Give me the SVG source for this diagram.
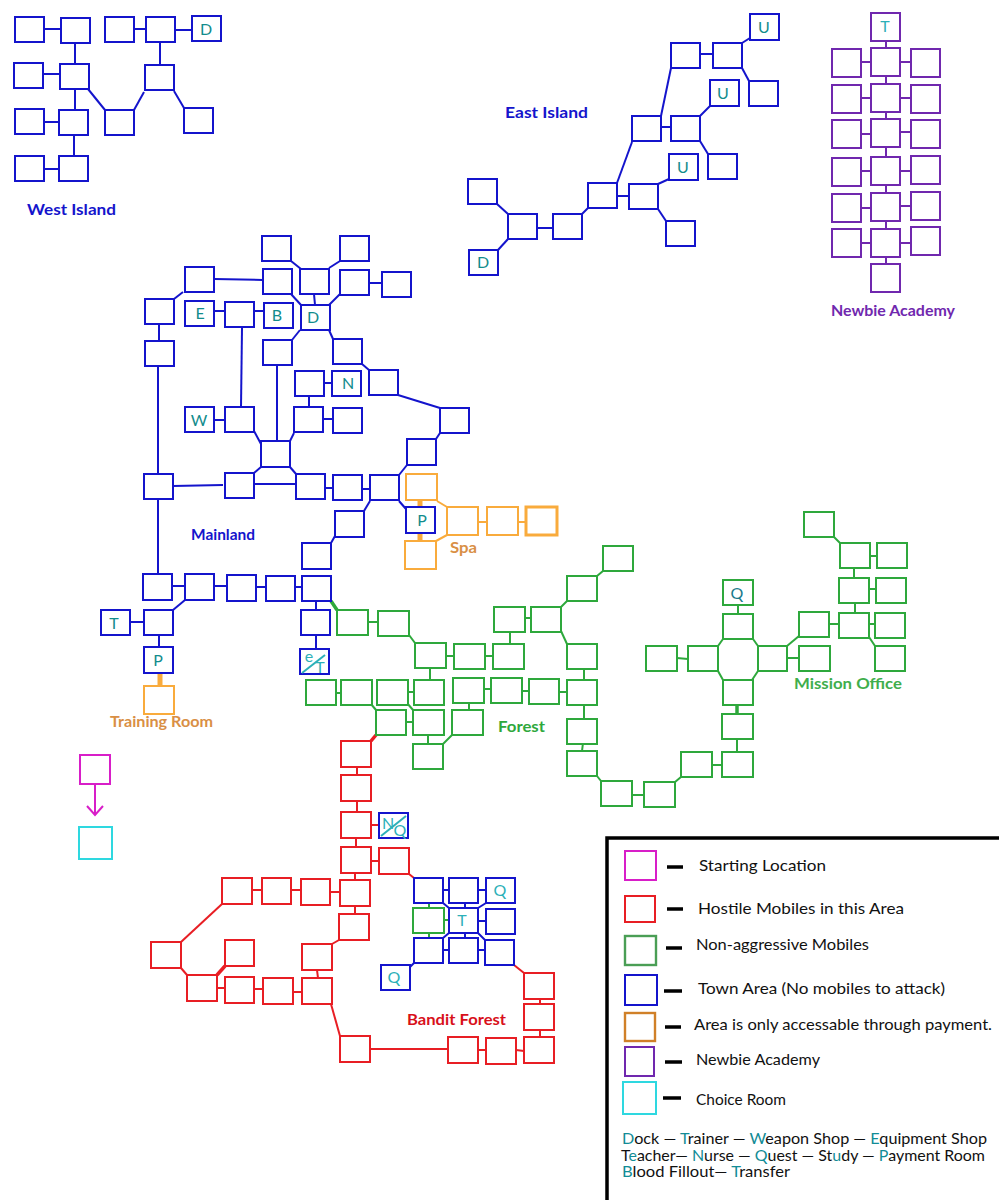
<svg xmlns="http://www.w3.org/2000/svg" width="1000" height="1200" viewBox="0 0 1000 1200">
<style>
rect{fill:#fff;stroke-width:2}
.b{stroke:#1414cc}.r{stroke:#e81e24}.g{stroke:#2ea83c}.o{stroke:#f9ab3c}.p{stroke:#7028ae}.m{stroke:#d81ec8}.c{stroke:#2ed8e0}
path{fill:none;stroke-width:2}
.lb{stroke:#1414cc}.lr{stroke:#e81e24}.lg{stroke:#2ea83c}.lo{stroke:#f9ab3c}.lp{stroke:#7028ae}.lm{stroke:#d81ec8}.lk{stroke:#000}
.h{stroke-width:3.5}.f{stroke-width:5}
text{font-family:"Lato","Noto Sans","Liberation Sans",sans-serif}
.t{font-size:16px;fill:#128c8c;text-anchor:middle}
.tl{font-size:16px;fill:#2cb0b8;text-anchor:middle}
.lab{font-size:15px;font-weight:700}
.leg{font-size:15px;fill:#111}
.key{font-size:15px;fill:#111}
.k{fill:#128c96}
</style>

<g id="connectors">
<g id="c-west">
<path class="lb" d="M44 29H61"/><path class="lb" d="M75 43V64"/><path class="lb" d="M43 74H60"/><path class="lb" d="M75 89V110"/><path class="lb" d="M44 122H59"/><path class="lb" d="M74 134V156"/><path class="lb" d="M44 169H59"/><path class="lb" d="M134 29H146"/><path class="lb" d="M175 30H192"/><path class="lb" d="M160 42V65"/><path class="lb" d="M88 89L105 110"/><path class="lb" d="M134 110L144 92"/><path class="lb" d="M174 91L184 108"/>
</g>
<g id="c-east">
<path class="lb" d="M700 54H713"/><path class="lb" d="M742 43L750 38"/><path class="lb" d="M742 68L749 81"/><path class="lb" d="M671 68L661 116"/><path class="lb" d="M661 127H671"/><path class="lb" d="M700 116L710 106"/><path class="lb" d="M700 141L708 154"/><path class="lb" d="M632 142L617 183"/><path class="lb" d="M617 196H629"/><path class="lb" d="M658 184L669 179"/><path class="lb" d="M658 209L666 221"/><path class="lb" d="M582 214L588 208"/><path class="lb" d="M537 228H553"/><path class="lb" d="M497 204L508 214"/><path class="lb" d="M508 239L498 250"/>
</g>
<g id="c-academy">
<path class="lp" d="M886 41V48"/><path class="lp" d="M886 76V84"/><path class="lp" d="M886 112V119"/><path class="lp" d="M886 147V157"/><path class="lp" d="M886 185V193"/><path class="lp" d="M886 221V229"/><path class="lp" d="M886 257V264"/>
<path class="lp" d="M861 62H871"/><path class="lp" d="M861 98H871"/><path class="lp" d="M861 134H871"/><path class="lp" d="M861 171H871"/><path class="lp" d="M861 208H871"/><path class="lp" d="M861 243H871"/>
<path class="lp" d="M900 62H911"/><path class="lp" d="M900 98H911"/><path class="lp" d="M900 132H911"/><path class="lp" d="M900 171H911"/><path class="lp" d="M900 206H911"/><path class="lp" d="M900 243H911"/>
</g>
<g id="c-mainland">
<path class="lb" d="M214 279L263 280"/><path class="lb" d="M174 299L183 292"/><path class="lb" d="M159 324V341"/><path class="lb" d="M158 366V474"/><path class="lb" d="M214 311H225"/><path class="lb" d="M254 311H264"/><path class="lb" d="M242 328L241 407"/><path class="lb" d="M291 261L301 269"/><path class="lb" d="M329 268L340 261"/><path class="lb" d="M314 294L315 305"/><path class="lb" d="M291 294L301 305"/><path class="lb" d="M340 294L329 305"/><path class="lb" d="M369 283H382"/><path class="lb" d="M300 330L292 340"/><path class="lb" d="M277 365V441"/><path class="lb" d="M329 330L333 339"/><path class="lb" d="M362 364L369 370"/><path class="lb" d="M398 395L440 408"/><path class="lb" d="M324 383H332"/><path class="lb" d="M309 396V407"/><path class="lb" d="M214 420H225"/><path class="lb" d="M323 419H333"/><path class="lb" d="M254 431L261 444"/><path class="lb" d="M294 433L290 441"/><path class="lb" d="M254 473L261 467"/><path class="lb" d="M290 467L296 474"/><path class="lb" d="M254 484H296"/><path class="lb" d="M173 486L223 485"/><path class="lb" d="M325 488H333"/><path class="lb" d="M362 489H370"/><path class="lb" d="M399 475L407 465"/><path class="lb" d="M436 439L440 433"/><path class="lb" d="M399 501L406 509"/><path class="lb" d="M370 501L364 511"/><path class="lb" d="M335 536L331 543"/><path class="lb" d="M158 500V574"/><path class="lb" d="M172 586H185"/><path class="lb" d="M214 586H227"/><path class="lb" d="M256 587H266"/><path class="lb" d="M295 587H302"/><path class="lb" d="M185 600L173 610"/><path class="lb" d="M130 622H144"/><path class="lb" d="M159 635V647"/><path class="lb" d="M316 601V610"/><path class="lb" d="M316 635V649"/>
</g>
<g id="c-paid">
<path class="lo f" d="M420 500V507"/><path class="lo f" d="M420 533V541"/><path class="lo" d="M437 501L447 507"/><path class="lo" d="M436 541L447 535"/><path class="lo" d="M478 522H487"/><path class="lo" d="M518 522H526"/><path class="lo f" d="M160 671V686"/>
</g>
<g id="c-forest">
<path class="lg h" d="M331 601L337 610"/><path class="lg" d="M368 622H378"/><path class="lg" d="M409 635L415 643"/><path class="lg" d="M446 656H454"/><path class="lg" d="M485 656H493"/><path class="lg" d="M510 644V632"/><path class="lg" d="M525 618H531"/><path class="lg" d="M561 607L567 601"/><path class="lg" d="M597 576L603 571"/><path class="lg" d="M561 631L567 644"/><path class="lg" d="M584 669V680"/><path class="lg" d="M584 705V719"/><path class="lg" d="M583 743L582 751"/><path class="lg" d="M597 776L601 781"/><path class="lg" d="M632 795H644"/><path class="lg" d="M430 668V680"/><path class="lg" d="M336 693H341"/><path class="lg" d="M407 692H414"/><path class="lg" d="M484 689H491"/><path class="lg" d="M522 691H529"/><path class="lg" d="M559 692H567"/><path class="lg" d="M469 703V710"/><path class="lg" d="M371 704L376 710"/><path class="lg" d="M407 703L413 710"/><path class="lg" d="M406 722H413"/><path class="lg" d="M428 735V744"/><path class="lg" d="M452 735L443 744"/>
<path class="lg" d="M675 782L681 777"/><path class="lg" d="M712 765H722"/><path class="lg" d="M737 752V739"/><path class="lg h" d="M737 714V705"/><path class="lg" d="M738 605V614"/><path class="lg" d="M677 658L688 659"/><path class="lg" d="M723 639L718 646"/><path class="lg" d="M753 639L758 646"/><path class="lg" d="M718 671L723 680"/><path class="lg" d="M758 671L752 680"/><path class="lg" d="M787 658H799"/><path class="lg" d="M787 646L799 636"/><path class="lg" d="M829 624H839"/><path class="lg" d="M869 624H875"/><path class="lg" d="M869 637L875 646"/><path class="lg" d="M855 603V613"/><path class="lg" d="M854 568V578"/><path class="lg" d="M869 589H876"/><path class="lg" d="M871 556H877"/><path class="lg" d="M834 537L840 543"/>
</g>
<g id="c-bandit">
<path class="lr h" d="M371 741L376 735"/><path class="lr" d="M357 767V775"/><path class="lr" d="M357 801V812"/><path class="lr" d="M371 825H379"/><path class="lr" d="M356 838V847"/><path class="lr" d="M371 861H379"/><path class="lr" d="M355 873V880"/><path class="lr" d="M330 892H340"/><path class="lr" d="M291 890H301"/><path class="lr" d="M252 890H262"/><path class="lr" d="M355 906V914"/><path class="lr" d="M339 940L332 944"/><path class="lr" d="M222 904L181 942"/><path class="lr" d="M181 968L187 975"/><path class="lr h" d="M217 975L225 966"/><path class="lr" d="M217 988H225"/><path class="lr" d="M255 989H263"/><path class="lr" d="M293 992H302"/><path class="lr" d="M317 970L318 978"/><path class="lr" d="M331 1004L340 1036"/><path class="lr" d="M370 1049H448"/><path class="lr" d="M478 1050H486"/><path class="lr" d="M516 1050L524 1051"/><path class="lr" d="M540 1030V1037"/><path class="lr" d="M540 999V1004"/><path class="lr" d="M409 874L414 878"/><path class="lr" d="M514 965L524 973"/>
<path class="lb" d="M443 890H449"/><path class="lb" d="M478 890H486"/><path class="lg" d="M429 903V908"/><path class="lb" d="M465 903V908"/><path class="lg" d="M444 920H449"/><path class="lb" d="M478 921H486"/><path class="lg" d="M429 933V938"/><path class="lb" d="M465 932V938"/><path class="lb" d="M443 950H449"/><path class="lb" d="M478 950H485"/><path class="lb" d="M443 903L449 908"/><path class="lb" d="M486 903L478 908"/><path class="lb" d="M443 938L449 933"/><path class="lb" d="M485 940L478 933"/><path class="lb" d="M414 963L410 967"/>
</g>
<path id="c-start" class="lm" d="M95 785V815M87 806L95 815L103 806"/>
</g>

<g id="west-island">
<g id="w1"><rect class="b" x="15" y="17" width="29" height="25"/></g>
<g id="w2"><rect class="b" x="61" y="18" width="29" height="25"/></g>
<g id="w3"><rect class="b" x="105" y="17" width="29" height="25"/></g>
<g id="w4"><rect class="b" x="146" y="17" width="29" height="25"/></g>
<g id="w5"><rect class="b" x="192" y="16" width="29" height="25"/><text class="t" x="206" y="35">D</text></g>
<g id="w6"><rect class="b" x="14" y="63" width="29" height="25"/></g>
<g id="w7"><rect class="b" x="60" y="64" width="29" height="25"/></g>
<g id="w8"><rect class="b" x="145" y="65" width="29" height="25"/></g>
<g id="w9"><rect class="b" x="15" y="109" width="29" height="25"/></g>
<g id="w10"><rect class="b" x="59" y="110" width="29" height="25"/></g>
<g id="w11"><rect class="b" x="105" y="110" width="29" height="25"/></g>
<g id="w12"><rect class="b" x="184" y="108" width="29" height="25"/></g>
<g id="w13"><rect class="b" x="15" y="156" width="29" height="25"/></g>
<g id="w14"><rect class="b" x="59" y="156" width="29" height="25"/></g>
<text class="lab" x="27" y="215" fill="#1414cc" textLength="89" lengthAdjust="spacingAndGlyphs">West Island</text>
</g>

<g id="east-island">
<g id="e1"><rect class="b" x="671" y="43" width="29" height="25"/></g>
<g id="e2"><rect class="b" x="713" y="43" width="29" height="25"/></g>
<g id="e3"><rect class="b" x="750" y="14" width="29" height="26"/><text class="t" x="764" y="33">U</text></g>
<g id="e4"><rect class="b" x="749" y="81" width="29" height="25"/></g>
<g id="e5"><rect class="b" x="710" y="80" width="29" height="26"/><text class="t" x="723" y="99">U</text></g>
<g id="e6"><rect class="b" x="671" y="116" width="29" height="25"/></g>
<g id="e7"><rect class="b" x="632" y="116" width="29" height="25"/></g>
<g id="e8"><rect class="b" x="708" y="154" width="29" height="25"/></g>
<g id="e9"><rect class="b" x="669" y="154" width="29" height="26"/><text class="t" x="683" y="173">U</text></g>
<g id="e10"><rect class="b" x="629" y="184" width="29" height="25"/></g>
<g id="e11"><rect class="b" x="588" y="183" width="29" height="25"/></g>
<g id="e12"><rect class="b" x="666" y="221" width="29" height="25"/></g>
<g id="e13"><rect class="b" x="553" y="214" width="29" height="25"/></g>
<g id="e14"><rect class="b" x="508" y="214" width="29" height="25"/></g>
<g id="e15"><rect class="b" x="468" y="179" width="29" height="25"/></g>
<g id="e16"><rect class="b" x="469" y="250" width="29" height="25"/><text class="t" x="483" y="268">D</text></g>
<text class="lab" x="505" y="118" fill="#1414cc" textLength="83" lengthAdjust="spacingAndGlyphs">East Island</text>
</g>

<g id="academy">
<g id="a0"><rect class="p" x="871" y="13" width="29" height="28"/><text class="tl" x="885" y="32">T</text></g>
<g id="a1"><rect class="p" x="871" y="48" width="29" height="28"/></g>
<g id="a2"><rect class="p" x="871" y="84" width="29" height="28"/></g>
<g id="a3"><rect class="p" x="871" y="119" width="29" height="28"/></g>
<g id="a4"><rect class="p" x="871" y="157" width="29" height="28"/></g>
<g id="a5"><rect class="p" x="871" y="193" width="29" height="28"/></g>
<g id="a6"><rect class="p" x="871" y="229" width="29" height="28"/></g>
<g id="a7"><rect class="p" x="871" y="264" width="29" height="28"/></g>
<g id="a8"><rect class="p" x="832" y="49" width="29" height="28"/></g>
<g id="a9"><rect class="p" x="832" y="85" width="29" height="28"/></g>
<g id="a10"><rect class="p" x="832" y="120" width="29" height="28"/></g>
<g id="a11"><rect class="p" x="832" y="158" width="29" height="28"/></g>
<g id="a12"><rect class="p" x="832" y="194" width="29" height="28"/></g>
<g id="a13"><rect class="p" x="832" y="229" width="29" height="28"/></g>
<g id="a14"><rect class="p" x="911" y="49" width="29" height="28"/></g>
<g id="a15"><rect class="p" x="911" y="85" width="29" height="28"/></g>
<g id="a16"><rect class="p" x="911" y="120" width="29" height="28"/></g>
<g id="a17"><rect class="p" x="911" y="156" width="29" height="28"/></g>
<g id="a18"><rect class="p" x="911" y="192" width="29" height="28"/></g>
<g id="a19"><rect class="p" x="911" y="227" width="29" height="28"/></g>
<text class="lab" x="831" y="316" fill="#7028ae" textLength="124" lengthAdjust="spacingAndGlyphs">Newbie Academy</text>
</g>

<g id="mainland">
<g id="m1"><rect class="b" x="262" y="236" width="29" height="25"/></g>
<g id="m2"><rect class="b" x="340" y="236" width="29" height="25"/></g>
<g id="m3"><rect class="b" x="185" y="267" width="29" height="25"/></g>
<g id="m4"><rect class="b" x="263" y="269" width="29" height="25"/></g>
<g id="m5"><rect class="b" x="300" y="269" width="29" height="25"/></g>
<g id="m6"><rect class="b" x="340" y="270" width="29" height="25"/></g>
<g id="m7"><rect class="b" x="382" y="272" width="29" height="25"/></g>
<g id="m8"><rect class="b" x="145" y="299" width="29" height="25"/></g>
<g id="m9"><rect class="b" x="185" y="301" width="29" height="25"/><text class="t" x="200" y="319">E</text></g>
<g id="m10"><rect class="b" x="225" y="302" width="29" height="25"/></g>
<g id="m11"><rect class="b" x="264" y="303" width="29" height="25"/><text class="t" x="277" y="321">B</text></g>
<g id="m12"><rect class="b" x="301" y="305" width="29" height="25"/><text class="t" x="313" y="323">D</text></g>
<g id="m13"><rect class="b" x="263" y="340" width="29" height="25"/></g>
<g id="m14"><rect class="b" x="333" y="339" width="29" height="25"/></g>
<g id="m15"><rect class="b" x="145" y="341" width="29" height="25"/></g>
<g id="m16"><rect class="b" x="295" y="371" width="29" height="25"/></g>
<g id="m17"><rect class="b" x="332" y="371" width="29" height="25"/><text class="t" x="348" y="389">N</text></g>
<g id="m18"><rect class="b" x="369" y="370" width="29" height="25"/></g>
<g id="m19"><rect class="b" x="440" y="408" width="29" height="25"/></g>
<g id="m20"><rect class="b" x="407" y="439" width="29" height="26"/></g>
<g id="m21"><rect class="b" x="185" y="407" width="29" height="25"/><text class="t" x="199" y="426">W</text></g>
<g id="m22"><rect class="b" x="225" y="407" width="29" height="25"/></g>
<g id="m23"><rect class="b" x="294" y="407" width="29" height="25"/></g>
<g id="m24"><rect class="b" x="333" y="408" width="29" height="25"/></g>
<g id="m25"><rect class="b" x="261" y="441" width="29" height="26"/></g>
<g id="m26"><rect class="b" x="144" y="474" width="29" height="25"/></g>
<g id="m27"><rect class="b" x="225" y="473" width="29" height="25"/></g>
<g id="m28"><rect class="b" x="296" y="474" width="29" height="25"/></g>
<g id="m29"><rect class="b" x="333" y="475" width="29" height="25"/></g>
<g id="m30"><rect class="b" x="370" y="475" width="29" height="25"/></g>
<g id="m31"><rect class="b" x="406" y="507" width="29" height="26"/><text class="t" x="422" y="526">P</text></g>
<g id="m32"><rect class="b" x="335" y="511" width="29" height="26"/></g>
<g id="m33"><rect class="b" x="302" y="543" width="29" height="26"/></g>
<g id="m34"><rect class="b" x="143" y="574" width="29" height="26"/></g>
<g id="m35"><rect class="b" x="185" y="574" width="29" height="26"/></g>
<g id="m36"><rect class="b" x="227" y="575" width="29" height="26"/></g>
<g id="m37"><rect class="b" x="266" y="576" width="29" height="25"/></g>
<g id="m38"><rect class="b" x="302" y="576" width="29" height="25"/></g>
<g id="m39"><rect class="b" x="101" y="610" width="29" height="25"/><text class="t" x="114" y="629">T</text></g>
<g id="m40"><rect class="b" x="144" y="610" width="29" height="25"/></g>
<g id="m41"><rect class="b" x="301" y="610" width="29" height="25"/></g>
<g id="m42"><rect class="b" x="144" y="647" width="29" height="26"/><text class="t" x="158" y="666">P</text></g>
<g id="m43"><rect class="b" x="300" y="649" width="29" height="25"/><path d="M302 673L325 655" stroke="#2cb0b8" stroke-width="1.5"/><text class="tl" x="309" y="662">e</text><text class="tl" x="320" y="673">T</text></g>
<text class="lab" x="191" y="540" fill="#1414cc" textLength="64" lengthAdjust="spacingAndGlyphs">Mainland</text>
</g>

<g id="paid-areas">
<g id="s1"><rect class="o" x="406" y="474" width="31" height="26"/></g>
<g id="s2"><rect class="o" x="447" y="507" width="31" height="28"/></g>
<g id="s3"><rect class="o" x="487" y="507" width="31" height="28"/></g>
<g id="s4"><rect class="o" x="526" y="507" width="31" height="28" style="stroke-width:3"/></g>
<g id="s5"><rect class="o" x="405" y="541" width="31" height="28"/></g>
<g id="s6"><rect class="o" x="144" y="686" width="30" height="28"/></g>
<text class="lab" x="450" y="553" fill="#d98f45" textLength="27" lengthAdjust="spacingAndGlyphs">Spa</text>
<text class="lab" x="110" y="727" fill="#d98f45" textLength="103" lengthAdjust="spacingAndGlyphs">Training Room</text>
</g>

<g id="forest">
<g id="f1"><rect class="g" x="337" y="610" width="31" height="25"/></g>
<g id="f2"><rect class="g" x="378" y="611" width="31" height="25"/></g>
<g id="f3"><rect class="g" x="415" y="643" width="31" height="25"/></g>
<g id="f4"><rect class="g" x="454" y="644" width="31" height="25"/></g>
<g id="f5"><rect class="g" x="493" y="644" width="31" height="25"/></g>
<g id="f6"><rect class="g" x="494" y="607" width="31" height="25"/></g>
<g id="f7"><rect class="g" x="531" y="607" width="30" height="25"/></g>
<g id="f8"><rect class="g" x="567" y="576" width="30" height="25"/></g>
<g id="f9"><rect class="g" x="603" y="546" width="30" height="25"/></g>
<g id="f10"><rect class="g" x="567" y="644" width="30" height="25"/></g>
<g id="f11"><rect class="g" x="567" y="680" width="30" height="25"/></g>
<g id="f12"><rect class="g" x="567" y="719" width="30" height="25"/></g>
<g id="f13"><rect class="g" x="567" y="751" width="30" height="25"/></g>
<g id="f14"><rect class="g" x="601" y="781" width="31" height="25"/></g>
<g id="f15"><rect class="g" x="306" y="680" width="30" height="25"/></g>
<g id="f16"><rect class="g" x="341" y="680" width="31" height="25"/></g>
<g id="f17"><rect class="g" x="377" y="680" width="31" height="25"/></g>
<g id="f18"><rect class="g" x="414" y="680" width="30" height="25"/></g>
<g id="f19"><rect class="g" x="453" y="678" width="31" height="25"/></g>
<g id="f20"><rect class="g" x="491" y="678" width="31" height="25"/></g>
<g id="f21"><rect class="g" x="529" y="679" width="30" height="25"/></g>
<g id="f22"><rect class="g" x="376" y="710" width="30" height="25"/></g>
<g id="f23"><rect class="g" x="413" y="710" width="31" height="25"/></g>
<g id="f24"><rect class="g" x="452" y="710" width="31" height="25"/></g>
<g id="f25"><rect class="g" x="413" y="744" width="30" height="25"/></g>
<g id="f26"><rect class="g" x="644" y="782" width="31" height="25"/></g>
<g id="f27"><rect class="g" x="681" y="752" width="31" height="25"/></g>
<g id="f28"><rect class="g" x="722" y="752" width="31" height="25"/></g>
<g id="f29"><rect class="g" x="722" y="714" width="31" height="25"/></g>
<g id="f30"><rect class="g" x="723" y="680" width="30" height="25"/></g>
<g id="f31"><rect class="g" x="723" y="614" width="30" height="25"/></g>
<g id="f32"><rect class="g" x="723" y="580" width="30" height="25"/><text x="737" y="599" class="t" style="fill:#1a7a8c">Q</text></g>
<g id="f33"><rect class="g" x="688" y="646" width="30" height="25"/></g>
<g id="f34"><rect class="g" x="646" y="646" width="31" height="25"/></g>
<g id="f35"><rect class="g" x="758" y="646" width="29" height="25"/></g>
<g id="f36"><rect class="g" x="799" y="646" width="31" height="25"/></g>
<g id="f37"><rect class="g" x="799" y="612" width="30" height="25"/></g>
<g id="f38"><rect class="g" x="839" y="613" width="30" height="25"/></g>
<g id="f39"><rect class="g" x="875" y="613" width="30" height="25"/></g>
<g id="f40"><rect class="g" x="875" y="646" width="30" height="25"/></g>
<g id="f41"><rect class="g" x="839" y="578" width="30" height="25"/></g>
<g id="f42"><rect class="g" x="876" y="578" width="30" height="25"/></g>
<g id="f43"><rect class="g" x="840" y="543" width="30" height="25"/></g>
<g id="f44"><rect class="g" x="877" y="543" width="30" height="25"/></g>
<g id="f45"><rect class="g" x="804" y="512" width="30" height="25"/></g>
<text class="lab" x="498" y="732" fill="#2ea83c" textLength="47" lengthAdjust="spacingAndGlyphs">Forest</text>
<text class="lab" x="794" y="689" fill="#3fae4c" textLength="108" lengthAdjust="spacingAndGlyphs">Mission Office</text>
</g>

<g id="bandit-forest">
<g id="r1"><rect class="r" x="341" y="741" width="30" height="26"/></g>
<g id="r2"><rect class="r" x="341" y="775" width="30" height="26"/></g>
<g id="r3"><rect class="r" x="341" y="812" width="30" height="26"/></g>
<g id="r4"><rect class="r" x="341" y="847" width="30" height="26"/></g>
<g id="r5"><rect class="r" x="379" y="848" width="30" height="26"/></g>
<g id="r6"><rect class="r" x="340" y="880" width="30" height="26"/></g>
<g id="r7"><rect class="r" x="301" y="879" width="29" height="26"/></g>
<g id="r8"><rect class="r" x="262" y="878" width="29" height="26"/></g>
<g id="r9"><rect class="r" x="222" y="878" width="30" height="26"/></g>
<g id="r10"><rect class="r" x="339" y="914" width="30" height="26"/></g>
<g id="r11"><rect class="r" x="302" y="944" width="30" height="26"/></g>
<g id="r12"><rect class="r" x="151" y="942" width="30" height="26"/></g>
<g id="r13"><rect class="r" x="225" y="940" width="29" height="26"/></g>
<g id="r14"><rect class="r" x="187" y="975" width="30" height="26"/></g>
<g id="r15"><rect class="r" x="225" y="977" width="29" height="26"/></g>
<g id="r16"><rect class="r" x="263" y="978" width="30" height="26"/></g>
<g id="r17"><rect class="r" x="302" y="978" width="30" height="26"/></g>
<g id="r18"><rect class="r" x="340" y="1036" width="30" height="26"/></g>
<g id="r19"><rect class="r" x="448" y="1037" width="30" height="26"/></g>
<g id="r20"><rect class="r" x="486" y="1038" width="30" height="26"/></g>
<g id="r21"><rect class="r" x="524" y="1037" width="30" height="26"/></g>
<g id="r22"><rect class="r" x="524" y="1004" width="30" height="26"/></g>
<g id="r23"><rect class="r" x="524" y="973" width="30" height="26"/></g>
<g id="t0"><rect class="b" x="379" y="813" width="29" height="25"/><path d="M381 836L406 816" stroke="#2cb0b8" stroke-width="1.5"/><text class="tl" x="388" y="829">N</text><text class="tl" x="400" y="836">Q</text></g>
<g id="t1"><rect class="b" x="414" y="878" width="29" height="25"/></g>
<g id="t2"><rect class="b" x="449" y="878" width="29" height="25"/></g>
<g id="t3"><rect class="b" x="486" y="878" width="29" height="25"/><text class="tl" x="500" y="896">Q</text></g>
<g id="t4"><rect class="g" x="413" y="908" width="31" height="25"/></g>
<g id="t5"><rect class="b" x="449" y="908" width="29" height="25"/><text class="tl" x="462" y="926">T</text></g>
<g id="t6"><rect class="b" x="486" y="909" width="29" height="25"/></g>
<g id="t7"><rect class="b" x="414" y="938" width="29" height="25"/></g>
<g id="t8"><rect class="b" x="449" y="938" width="29" height="25"/></g>
<g id="t9"><rect class="b" x="485" y="940" width="29" height="25"/></g>
<g id="t10"><rect class="b" x="381" y="965" width="29" height="25"/><text class="tl" x="394" y="983">Q</text></g>
<text class="lab" x="407" y="1025" fill="#d8101a" textLength="99" lengthAdjust="spacingAndGlyphs">Bandit Forest</text>
</g>

<g id="start"><rect class="m" x="80" y="755" width="30" height="29"/></g>
<g id="choice"><rect class="c" x="79" y="827" width="33" height="32"/></g>

<g id="legend">
<path class="lk" style="stroke-width:3.5" d="M999 838H607V1200"/>
<g id="leg-start"><rect class="m" x="625" y="851" width="31" height="29"/><path class="lk h" d="M667 867H683"/><text class="leg" x="699" y="871" textLength="127" lengthAdjust="spacingAndGlyphs">Starting Location</text></g>
<g id="leg-hostile"><rect class="r" x="625" y="896" width="30" height="26"/><path class="lk h" d="M667 909H683"/><text class="leg" x="698" y="914" textLength="206" lengthAdjust="spacingAndGlyphs">Hostile Mobiles in this Area</text></g>
<g id="leg-neutral"><rect x="625" y="936" width="31" height="29" stroke="#4a9e55" style="stroke-width:2.4"/><path class="lk h" d="M666 948H682"/><text class="leg" x="696" y="950" textLength="173" lengthAdjust="spacingAndGlyphs">Non-aggressive Mobiles</text></g>
<g id="leg-town"><rect class="b" x="625" y="975" width="32" height="30"/><path class="lk h" d="M664 991H682"/><text class="leg" x="698" y="994" textLength="247" lengthAdjust="spacingAndGlyphs">Town Area (No mobiles to attack)</text></g>
<g id="leg-pay"><rect x="625" y="1013" width="30" height="28" stroke="#d08028" style="stroke-width:2.4"/><path class="lk h" d="M665 1027H681"/><text class="leg" x="694" y="1030" textLength="298" lengthAdjust="spacingAndGlyphs">Area is only accessable through payment.</text></g>
<g id="leg-academy"><rect class="p" x="625" y="1047" width="29" height="29"/><path class="lk h" d="M665 1062H682"/><text class="leg" x="696" y="1065" textLength="124" lengthAdjust="spacingAndGlyphs">Newbie Academy</text></g>
<g id="leg-choice"><rect class="c" x="623" y="1082" width="33" height="32"/><path class="lk h" d="M663 1098H681"/><text class="leg" x="696" y="1105" textLength="90" lengthAdjust="spacingAndGlyphs">Choice Room</text></g>
<text class="key" x="622" y="1144" textLength="365" lengthAdjust="spacingAndGlyphs"><tspan class="k">D</tspan>ock — <tspan class="k">T</tspan>rainer — <tspan class="k">W</tspan>eapon Shop — <tspan class="k">E</tspan>quipment Shop</text>
<text class="key" x="621" y="1161" textLength="364" lengthAdjust="spacingAndGlyphs">T<tspan class="k">e</tspan>acher— <tspan class="k">N</tspan>urse — <tspan class="k">Q</tspan>uest — St<tspan class="k">u</tspan>dy — <tspan class="k">P</tspan>ayment Room</text>
<text class="key" x="622" y="1177" textLength="168" lengthAdjust="spacingAndGlyphs"><tspan class="k">B</tspan>lood Fillout— <tspan class="k">T</tspan>ransfer</text>
</g>
</svg>
